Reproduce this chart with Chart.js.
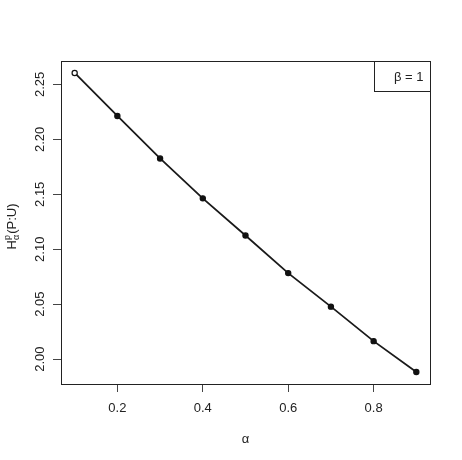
<!DOCTYPE html>
<html>
<head>
<meta charset="utf-8">
<script src="https://cdn.jsdelivr.net/npm/chart.js@4/dist/chart.umd.min.js"></script>
<style>
  html, body { margin: 0; padding: 0; background: #fff; }
  #plot { display: block; }
</style>
</head>
<body>
<canvas id="plot" width="462" height="460"></canvas>
<script>
// data
const alphas = [0.1, 0.2, 0.3, 0.4, 0.5, 0.6, 0.7, 0.8, 0.9];
const entropy = [2.2604, 2.2213, 2.1826, 2.1463, 2.1125, 2.0783, 2.0478, 2.0164, 1.9883];
const xTicks = [0.2, 0.4, 0.6, 0.8];
const yTicks = [2.00, 2.05, 2.10, 2.15, 2.20, 2.25];
const legendText = "\u03b2 = 1";
const xLabel = "\u03b1";

const FONT = "'Liberation Sans', Arial, Helvetica, sans-serif";

// R style axis range: data range widened by 4% each side
function padRange(vals) {
  const lo = Math.min(...vals), hi = Math.max(...vals);
  const d = (hi - lo) * 0.04;
  return [lo - d, hi + d];
}
const [xMin, xMax] = padRange(alphas);
const [yMin, yMax] = padRange(entropy);

// box round the plot region and the legend box
const boxPlugin = {
  id: 'rbox',
  afterDraw(chart) {
    const { ctx, chartArea: a } = chart;
    ctx.save();
    ctx.strokeStyle = '#222';
    ctx.lineWidth = 1;
    ctx.strokeRect(a.left + 0.5, a.top + 0.5, a.right - a.left, a.bottom - a.top);

    // legend at top right
    const lw = 56, lh = 30;
    const lx = a.right - lw;
    ctx.strokeRect(lx + 0.5, a.top + 0.5, lw, lh);
    ctx.fillStyle = '#222';
    ctx.font = '13px ' + FONT;
    ctx.textAlign = 'left';
    ctx.textBaseline = 'middle';
    ctx.fillText(legendText, lx + 20, a.top + 16);
    ctx.restore();
  }
};

// y axis title  H^p_alpha(P:U), rotated
const yTitlePlugin = {
  id: 'ytitle',
  afterDraw(chart) {
    const { ctx, chartArea: a } = chart;
    ctx.save();
    ctx.fillStyle = '#222';
    ctx.textBaseline = 'alphabetic';
    ctx.textAlign = 'left';
    const big = '13px ' + FONT, small = '9px ' + FONT;
    ctx.font = big;
    const wH = ctx.measureText('H').width;
    const wRest = ctx.measureText('(P:U)').width;
    ctx.font = small;
    const wS = Math.max(ctx.measureText('p').width, ctx.measureText('\u03b1').width);
    const total = wH + wS + 1 + wRest;
    const cy = (a.top + a.bottom) / 2 + 4;
    ctx.translate(16, cy);
    ctx.rotate(-Math.PI / 2);
    let x = -total / 2;
    ctx.font = big;
    ctx.fillText('H', x, 0);
    x += wH;
    ctx.font = small;
    ctx.fillText('p', x, -6);
    ctx.fillText('\u03b1', x, 3);
    x += wS + 1;
    ctx.font = big;
    ctx.fillText('(P:U)', x, 0);
    ctx.restore();
  }
};

new Chart(document.getElementById('plot'), {
  type: 'line',
  data: {
    datasets: [{
      data: alphas.map((a, i) => ({ x: a, y: entropy[i] })),
      borderColor: '#1a1a1a',
      borderWidth: 1.8,
      tension: 0,
      pointRadius: 2.6,
      pointBorderWidth: 1.2,
      pointBorderColor: '#111',
      pointBackgroundColor: alphas.map((_, i) => i === 0 ? '#fff' : '#111'),
      fill: false
    }]
  },
  options: {
    responsive: false,
    devicePixelRatio: 1,
    animation: false,
    layout: { padding: { left: 0, top: 61, right: 32, bottom: 0 } },
    plugins: {
      legend: { display: false },
      tooltip: { enabled: false }
    },
    scales: {
      x: {
        type: 'linear',
        min: xMin,
        max: xMax,
        afterBuildTicks: s => { s.ticks = xTicks.map(v => ({ value: v })); },
        afterFit: s => { s.height = 76; },
        grid: { display: true, drawOnChartArea: false, drawTicks: true, tickLength: 8, color: '#444' },
        border: { display: true, color: '#222' },
        ticks: {
          autoSkip: false,
          padding: 9,
          color: '#222',
          font: { family: FONT, size: 13 },
          maxRotation: 0,
          callback: v => v.toFixed(1)
        },
        title: {
          display: true,
          text: xLabel,
          color: '#222',
          font: { family: FONT, size: 13 },
          padding: { top: 0, bottom: 13 }
        }
      },
      y: {
        type: 'linear',
        min: yMin,
        max: yMax,
        afterBuildTicks: s => { s.ticks = yTicks.map(v => ({ value: v })); },
        afterFit: s => { s.width = 61; },
        grid: { display: true, drawOnChartArea: false, drawTicks: true, tickLength: 8, color: '#444' },
        border: { display: true, color: '#222' },
        ticks: {
          autoSkip: false,
          padding: 0,
          minRotation: 90,
          maxRotation: 90,
          crossAlign: 'center',
          color: '#222',
          font: { family: FONT, size: 13 },
          callback: v => v.toFixed(2)
        }
      }
    }
  },
  plugins: [boxPlugin, yTitlePlugin]
});
</script>
</body>
</html>
